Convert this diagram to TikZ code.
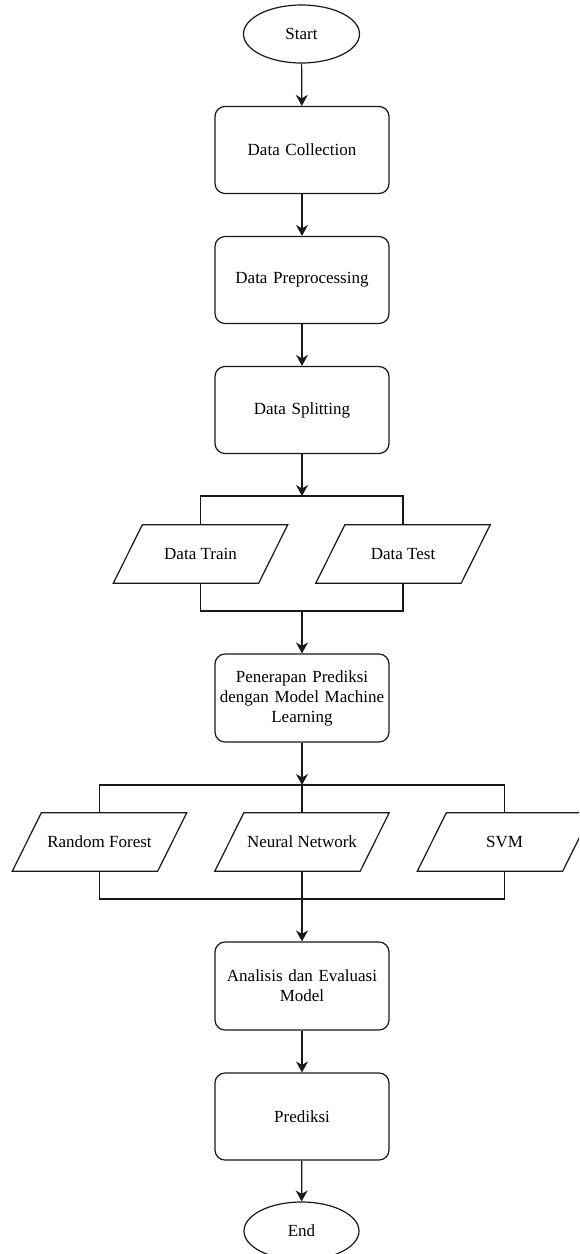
\documentclass[tikz,border=0pt]{standalone}
\usepackage{fontspec}
\setmainfont{Liberation Serif}
\usetikzlibrary{shapes.geometric,arrows.meta}
\begin{document}
\begin{tikzpicture}[x=1pt,y=-1pt,
  every node/.style={font=\fontsize{17}{20}\selectfont},
  line/.style={line width=1.2pt,draw=black!90},
  arr/.style={line,-{Stealth[length=11pt,width=12pt,inset=3.5pt]}},
  procbox/.style={line,rectangle,rounded corners=10pt,minimum width=174pt,minimum height=87pt,align=center,text width=165pt,inner sep=0pt},
  term/.style={line,ellipse,minimum width=116pt,minimum height=58pt,inner sep=0pt},
  io/.style={rectangle,minimum width=145pt,minimum height=58pt,inner sep=0pt}]
\useasboundingbox (0,0) rectangle (579,1254);
\clip (0,0) rectangle (579,1254);
\fill[white] (0,0) rectangle (579,1254);

\node[term] (start) at (301.5,34) {Start};
\node[procbox] (dc) at (302,150) {Data Collection};
\node[procbox] (dp) at (302,280) {Data Preprocessing};
\node[procbox] (ds) at (302,410) {Data Splitting};
\node[io] (train) at (200.5,554) {Data Train};
\node[io] (test) at (403,554) {Data Test};
\node[procbox,minimum height=88pt] (pp) at (302,698) {Penerapan Prediksi\\dengan Model Machine\\Learning};
\node[io] (rf) at (99.5,842) {Random Forest};
\node[io] (nn) at (302,842) {Neural Network};
\node[io] (svm) at (504.5,842) {SVM};
\node[procbox,minimum height=88pt] (an) at (302,986) {Analisis dan Evaluasi\\Model};
\node[procbox] (pr) at (302,1116.5) {Prediksi};
\node[term,minimum width=115pt] (end) at (301.5,1231) {End};

\foreach \n in {train,test,rf,nn,svm}
  \draw[line,line join=miter] ([xshift=14.5pt]\n.north west) -- ([xshift=14.5pt]\n.north east)
    -- ([xshift=-14.5pt]\n.south east) -- ([xshift=-14.5pt]\n.south west) -- cycle;

\coordinate (s1) at (302,496);
\coordinate (j1) at (302,611);
\coordinate (s2) at (302,785);
\coordinate (j2) at (302,899);

\draw[arr] (start) -- (dc);
\draw[arr] (dc) -- (dp);
\draw[arr] (dp) -- (ds);
\draw[arr] (ds) -- (s1);
\draw[line] (train.north) |- (s1) -| (test.north);
\draw[line] (train.south) |- (j1) -| (test.south);
\draw[arr] (j1) -- (pp);
\draw[arr] (pp) -- (s2);
\draw[line] (rf.north) |- (s2) -| (svm.north);
\draw[line] (s2) -- (nn.north);
\draw[line] (rf.south) |- (j2) -| (svm.south);
\draw[line] (nn.south) -- (j2);
\draw[arr] (j2) -- (an);
\draw[arr] (an) -- (pr);
\draw[arr] (pr) -- (end);
\end{tikzpicture}
\end{document}
